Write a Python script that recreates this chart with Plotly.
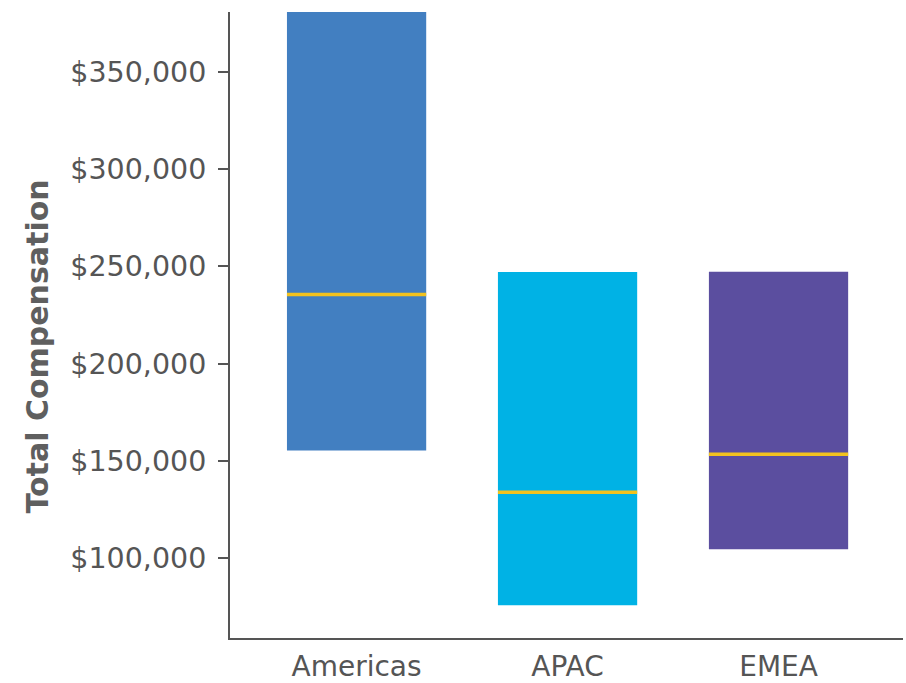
import plotly.graph_objects as go

# Data
regions = ["Americas", "APAC", "EMEA"]
low_values = [155300, 75850, 104600]
high_values = [395000, 247100, 247250]
median_values = [235500, 133900, 153400]
bar_colors = ["#427FC1", "#00B2E5", "#5B4E9F"]
y_tick_values = [100000, 150000, 200000, 250000, 300000, 350000]
y_tick_labels = ["$100,000", "$150,000", "$200,000", "$250,000", "$300,000", "$350,000"]

BAR_W = 0.66
x_pos = list(range(len(regions)))

fig = go.Figure()
fig.add_trace(go.Bar(
    x=x_pos,
    y=[h - l for h, l in zip(high_values, low_values)],
    base=low_values,
    width=BAR_W,
    marker=dict(color=bar_colors, line=dict(width=0)),
    showlegend=False,
    hoverinfo="skip",
))

for i, m in enumerate(median_values):
    fig.add_trace(go.Scatter(
        x=[x_pos[i] - BAR_W / 2, x_pos[i] + BAR_W / 2],
        y=[m, m],
        mode="lines",
        line=dict(color="#F2C21E", width=3.5),
        showlegend=False,
        hoverinfo="skip",
    ))

font_family = "DejaVu Sans"
fig.update_layout(
    width=906, height=683,
    margin=dict(l=230, r=3, t=12, b=45),
    paper_bgcolor="white",
    plot_bgcolor="white",
    font=dict(family=font_family, color="#555555", size=28),
    xaxis=dict(
        range=[-0.6, 2.59],
        tickvals=x_pos,
        ticktext=regions,
        showgrid=False,
        zeroline=False,
        showline=True,
        linecolor="#555555",
        linewidth=2,
        ticks="",
        ticklabelstandoff=2,
        automargin=False,
        tickfont=dict(size=28, color="#555555"),
    ),
    yaxis=dict(
        range=[59000, 380700],
        tickvals=y_tick_values,
        ticktext=y_tick_labels,
        showgrid=False,
        zeroline=False,
        showline=True,
        linecolor="#555555",
        linewidth=2,
        ticks="outside",
        ticklen=10,
        tickwidth=2,
        tickcolor="#555555",
        ticklabelstandoff=6,
        automargin=False,
        tickfont=dict(size=28.5, color="#555555"),
    ),
    annotations=[dict(
        text="<b>Total Compensation</b>",
        textangle=-90,
        xref="paper", yref="paper",
        x=-230 / 673 + 37 / 673, y=(638 - 346.5) / 626,
        xanchor="center", yanchor="middle",
        showarrow=False,
        font=dict(family=font_family, size=30, color="#5f5f5f"),
    )],
)

fig.write_html("out.html")
